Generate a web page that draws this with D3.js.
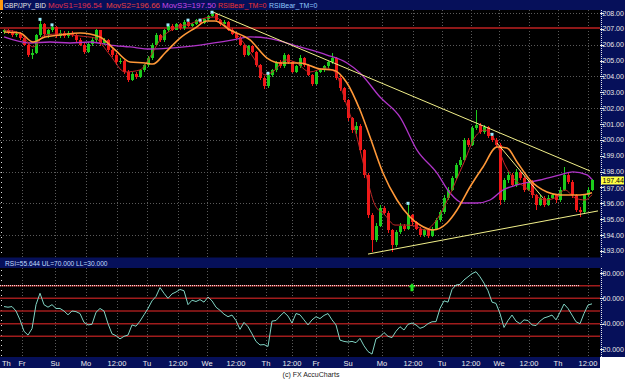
<!DOCTYPE html>
<html>
<head>
<meta charset="utf-8">
<script src="https://cdn.jsdelivr.net/npm/d3@7"></script>
<style>
  body { margin: 0; background: #fff; }
  svg { display: block; font-family: "Liberation Sans", Arial, sans-serif; }
</style>
</head>
<body>
<script>
// hourly-ish GBP/JPY bars
const firstOpen = 206.80;
const closes = [
  206.90,206.80,206.60,206.70,206.40,206.00,205.35,205.50,206.60,207.30,
  206.70,206.90,207.10,206.55,206.75,206.55,206.75,206.60,206.30,206.00,
  205.55,206.05,206.30,206.90,206.10,206.30,205.65,205.35,204.90,205.00,
  204.30,203.80,204.15,203.95,204.40,204.70,205.15,206.00,206.60,206.30,
  206.90,207.20,206.95,207.30,207.05,207.45,207.20,207.30,207.55,207.35,
  207.60,207.80,207.95,207.55,207.30,207.45,206.95,206.70,206.45,206.00,
  205.35,205.90,205.55,204.70,203.90,203.40,204.10,204.40,204.90,204.65,
  205.35,204.90,204.30,204.65,205.15,204.70,204.10,203.50,204.30,204.40,
  204.65,204.90,205.15,203.90,203.25,202.50,201.35,200.60,200.90,199.35,
  197.80,195.25,193.70,194.60,195.70,195.40,194.30,193.35,194.20,194.60,
  194.40,195.25,194.80,194.40,194.00,194.30,193.95,194.40,194.95,195.45,
  196.35,196.85,197.60,198.40,198.75,200.00,199.70,200.75,200.95,200.50,
  200.80,200.25,200.00,199.70,196.20,197.45,197.80,197.15,198.00,197.60,
  196.85,197.35,196.50,195.90,196.35,195.90,196.35,196.50,196.20,196.85,
  197.80,197.35,196.50,195.60,195.45,196.50,196.85,197.44
];
const highs = [
  207.00,207.00,206.90,206.85,206.80,206.50,206.10,205.70,206.70,207.60,
  207.40,207.00,207.25,207.15,206.90,206.85,206.85,206.85,206.70,206.40,
  206.10,206.15,206.40,207.00,206.95,206.45,206.35,205.75,205.45,205.15,
  205.05,204.40,204.25,204.25,204.50,204.80,205.30,206.10,206.75,206.70,
  207.00,207.25,207.30,207.40,207.35,207.55,207.55,207.40,207.65,207.55,
  207.70,207.90,208.05,208.00,207.60,207.55,207.50,207.05,206.80,206.55,
  206.05,206.00,206.00,205.60,204.80,204.00,204.20,204.50,205.00,205.05,
  205.50,205.40,204.95,204.75,205.35,205.20,204.80,204.15,204.40,204.55,
  204.75,205.00,205.50,205.20,204.00,203.35,202.60,201.45,201.10,201.00,
  199.45,197.90,195.40,194.75,195.90,195.85,195.50,194.40,194.30,194.75,
  194.70,196.00,195.35,194.90,194.50,194.40,194.35,194.50,195.05,195.60,
  196.50,197.00,197.75,198.55,198.90,200.15,200.10,200.90,201.90,201.05,
  200.95,200.90,200.35,200.10,199.80,197.60,197.95,197.90,198.15,198.10,
  197.70,197.50,197.45,196.60,196.50,196.45,196.50,196.65,196.60,197.00,
  198.30,197.90,197.45,196.60,195.75,196.60,197.00,197.55
];
const lows = [
  206.70,206.70,206.50,206.50,206.30,205.90,205.20,205.10,205.40,206.50,
  206.50,206.40,206.80,206.40,206.45,206.45,206.45,206.50,206.20,205.90,
  205.40,205.45,205.95,206.20,205.95,206.00,205.55,205.20,204.75,204.80,
  204.15,203.65,203.70,203.85,203.90,204.30,204.60,205.05,205.90,206.15,
  206.20,206.80,206.85,206.90,206.95,206.95,207.10,207.10,207.25,207.25,
  207.30,207.50,207.75,207.45,207.20,207.20,206.85,206.60,206.35,205.90,
  205.25,205.30,205.45,204.60,203.75,203.20,203.30,203.95,204.30,204.55,
  204.55,204.80,204.20,204.20,204.55,204.60,204.00,203.40,203.45,204.20,
  204.30,204.55,204.80,203.80,203.10,202.40,201.20,200.45,200.40,199.20,
  197.60,195.10,192.90,193.55,194.50,195.25,194.15,192.90,193.25,194.05,
  194.25,194.30,194.65,194.30,193.85,193.90,193.80,193.85,194.30,194.85,
  195.35,196.20,196.75,197.50,198.30,198.65,199.55,199.60,200.65,200.35,
  200.40,200.10,199.85,199.55,195.90,196.10,197.30,197.00,197.05,197.45,
  196.70,196.75,196.35,195.60,195.80,195.75,195.80,196.25,196.05,196.10,
  196.75,197.20,196.35,195.45,195.15,195.35,196.40,196.75
];

// moving averages, [bar, price]
const ma1 = [[0,206.93],[4,206.74],[7.25,205.86],[10.25,206.61],[14,206.68],[19,206.55],[22.75,206.42],
  [26.5,205.35],[30.25,204.28],[34,204.41],[36.5,205.23],[39,206.3],[42.75,207.05],[46.5,207.31],
  [50.25,207.68],[52.75,207.75],[55.25,207.24],[59,206.42],[62.75,205.04],[65.25,204.09],[67.75,204.41],
  [70.25,205.04],[72.75,204.91],[76.5,204.28],[80.25,204.53],[82.75,204.28],[85.25,202.51],[87.75,200.62],
  [90.25,198.1],[92.75,195.89],[95.25,195.26],[97.75,194.63],[100.25,194.63],[102.75,194.57],[105.25,194.32],
  [107.75,194.82],[110.25,195.89],[112.75,197.28],[115.25,198.73],[117.75,200.18],[120.25,200.62],
  [122.75,199.99],[125.25,198.42],[127.75,197.47],[130.25,197.03],[132.75,196.52],[135.25,196.21],
  [137.75,196.34],[140.25,196.84],[142.75,196.34],[145.25,196.21],[147,196.54]];
const ma2 = [[0,206.8],[4,206.74],[7.25,206.17],[10.25,206.49],[14,206.61],[19,206.74],[24,206.49],
  [27.75,205.67],[31.5,204.91],[35.25,204.85],[37.25,204.78],[40.25,205.48],[44,206.42],[47.75,207.05],
  [50.75,207.5],[52.75,207.5],[56.5,206.93],[61.5,206.3],[65.75,205.16],[69,204.85],[74,204.85],
  [79,204.47],[82.25,204.41],[85.75,203.59],[89,201.88],[91.5,200.18],[94.75,197.91],[98.25,196.21],
  [101.5,195.14],[104,194.63],[107.25,194.32],[110.75,194.76],[113.25,195.58],[116.5,197.03],
  [119.75,198.29],[123.25,199.55],[125.75,199.49],[128.25,198.61],[131.5,197.47],[135.75,196.71],
  [139,196.52],[144,196.52],[147,196.66]];
const ma3 = [[0,206.49],[6.5,206.11],[11.5,206.17],[16.5,206.11],[21.5,206.17],[26.5,205.98],
  [31.5,205.86],[36.5,205.73],[41.5,205.79],[49,205.98],[57.25,206.3],[61.5,206.49],[65.75,206.42],
  [74,205.86],[80.75,205.35],[85.75,204.85],[89,204.22],[94,202.7],[99,201.44],[103.25,199.36],
  [108.25,197.91],[111.5,196.65],[114.75,196.02],[118.25,196.02],[121.5,196.21],[124.75,196.84],
  [128.25,197.16],[134,197.47],[139,197.79],[142.25,197.98],[145.75,197.79],[147,197.5]];

const trendLines = [
  [[52.25,208.06],[146.5,198.04]],
  [[91,192.8],[148.5,195.52]],
  [[123.25,199.8],[134.75,196.34]]
];
const resistance = 207.05;
const bearMarks = [[9,207.6],[12,207.25],[41,207.25],[46,207.55],[49,207.55],[52,208.05],[66,204.2],[101,196.0],[122,200.35]];
const lastPrice = 197.44;

const rsi = [
  53.5,53,53.5,50,43,34,31,36,55,64,
  55,53,55,52,52,50,47,50,49.5,48,
  41,39,39.5,49,52,50,40,32,30.5,28,
  30,31,39,38,42,47,52,58,61.5,68.5,
  64,60,63.5,65,67,66,55,58.5,57.5,59,
  57,61,58,53,50.5,47.5,45.5,46.8,42.5,35.5,
  41,37.6,32,26,23.2,23.5,22,42,42.5,46,
  49,46,40.5,48,47,43,39,43,45.5,44,
  46.5,48,43,39,27,26,25.5,26,25,28.4,
  22.5,18,16,28,29.7,33,30,29,34,37.6,
  35,39.5,40.5,39,36.3,37.5,40,41.5,41.6,52,
  58,57,67,70.5,71,74.5,77,79.5,81,77,
  72,66,57,56,48,37,42.5,46.8,42,40,
  43,42.5,39,38.5,42,44.5,45.5,46.8,43,49,
  55.5,52,46.8,41.5,40,48,54.7,55.644
];
const rsiLevels = [30, 40, 50, 60, 70];
const rsiArrowBar = 102;

const tickLabels = ["Th","Fr","Su","Mo","12:00","Tu","12:00","We","12:00","Th","12:00",
  "Fr","Su","Mo","12:00","Tu","12:00","We","12:00","Th","12:00"];
const tickBars = [0,4.5,12.75,20.5,28.25,35.75,43.5,50.75,58,65.5,72,
  78,86,94.5,102.25,109.5,116.75,123.75,131.25,138.5,146];
const priceTicks = [208,207,206,205,204,203,202,201,200,199,198,197,196,195,194,193];
const priceGrid = [208,206,204,202,200,198,196,194];
const rsiTicks = [80, 60, 40, 20];

const navy = "#06105a";
const svg = d3.select("body").append("svg").attr("width", 625).attr("height", 380);

svg.append("rect").attr("width", 625).attr("height", 380).attr("fill", "#fff");
svg.append("rect").attr("width", 625).attr("height", 357).attr("fill", navy);
svg.append("rect").attr("x", 0).attr("y", 357).attr("width", 600).attr("height", 11).attr("fill", navy);
svg.append("rect").attr("x", 0).attr("y", 10).attr("width", 600).attr("height", 247.5).attr("fill", "#000");
svg.append("rect").attr("x", 0).attr("y", 268).attr("width", 600).attr("height", 89).attr("fill", "#000");
svg.append("rect").attr("x", 0).attr("y", 0).attr("width", 3).attr("height", 10).attr("fill", "#ff9a10");

const x = d3.scaleLinear().domain([-1, 149]).range([0, 600]);
const y = d3.scaleLinear().domain([193, 208]).range([250.9, 13]);
const yr = d3.scaleLinear().domain([20, 80]).range([349, 273]);

svg.append("clipPath").attr("id", "main").append("rect").attr("x", 0).attr("y", 10).attr("width", 600).attr("height", 247.5);
svg.append("clipPath").attr("id", "sub").append("rect").attr("x", 0).attr("y", 268).attr("width", 600).attr("height", 89);

// grid
const grid = svg.append("g").attr("stroke", "#5a5a5a").attr("stroke-dasharray", "1,2").attr("stroke-width", 1);
grid.selectAll(".h").data(priceGrid).join("line")
  .attr("x1", 0).attr("x2", 600).attr("y1", d => Math.round(y(d)) + 0.5).attr("y2", d => Math.round(y(d)) + 0.5);
grid.selectAll(".v").data(tickBars.slice(1)).join("line")
  .attr("x1", d => Math.round(x(d)) + 0.5).attr("x2", d => Math.round(x(d)) + 0.5).attr("y1", 10).attr("y2", 257);
grid.selectAll(".v2").data(tickBars.slice(1)).join("line")
  .attr("x1", d => Math.round(x(d)) + 0.5).attr("x2", d => Math.round(x(d)) + 0.5).attr("y1", 268).attr("y2", 357);

// left edge dots
svg.append("line").attr("x1", 1.5).attr("x2", 1.5).attr("y1", 12).attr("y2", 257)
  .attr("stroke", "#ddd").attr("stroke-dasharray", "1,4");
svg.append("line").attr("x1", 1.5).attr("x2", 1.5).attr("y1", 270).attr("y2", 357)
  .attr("stroke", "#ddd").attr("stroke-dasharray", "1,4");

const plot = svg.append("g").attr("clip-path", "url(#main)");

plot.append("line").attr("x1", 0).attr("x2", 600).attr("y1", y(resistance)).attr("y2", y(resistance))
  .attr("stroke", "#8e1818").attr("stroke-width", 2);

// candles
const bars = closes.map((c, i) => ({ i, o: i ? closes[i - 1] : firstOpen, c, h: highs[i], l: lows[i] }));
const up = "#1ccc1c", down = "#f01818";
const cg = plot.append("g").attr("shape-rendering", "crispEdges");
cg.selectAll("line").data(bars).join("line")
  .attr("x1", d => Math.round(x(d.i)) + 0.5).attr("x2", d => Math.round(x(d.i)) + 0.5)
  .attr("y1", d => y(d.h)).attr("y2", d => y(d.l))
  .attr("stroke", d => d.c >= d.o ? up : down);
cg.selectAll("rect").data(bars).join("rect")
  .attr("x", d => Math.round(x(d.i)) - 1).attr("width", 3)
  .attr("y", d => y(Math.max(d.o, d.c)))
  .attr("height", d => Math.max(1, Math.abs(y(d.o) - y(d.c))))
  .attr("fill", d => d.c >= d.o ? up : down);

const line = d3.line().x(d => x(d[0])).y(d => y(d[1])).curve(d3.curveMonotoneX);
plot.append("path").attr("d", line(ma3)).attr("fill", "none").attr("stroke", "#b034c8").attr("stroke-width", 1.3);
plot.append("path").attr("d", line(ma1)).attr("fill", "none").attr("stroke", "#c02828").attr("stroke-width", 1);
plot.append("path").attr("d", line(ma2)).attr("fill", "none").attr("stroke", "#ff9838").attr("stroke-width", 1.6);

plot.selectAll(".tl").data(trendLines).join("line")
  .attr("x1", d => x(d[0][0])).attr("y1", d => y(d[0][1]))
  .attr("x2", d => x(d[1][0])).attr("y2", d => y(d[1][1]))
  .attr("stroke", "#f2f08a").attr("stroke-width", 1);

plot.selectAll(".bm").data(bearMarks).join("rect")
  .attr("x", d => x(d[0]) - 1.5).attr("y", d => y(d[1]) - 1.5)
  .attr("width", 3).attr("height", 3).attr("fill", "#9cecff");

// right price axis
const axisCol = "#e6e6e6";
svg.append("line").attr("x1", 601.5).attr("x2", 601.5).attr("y1", 10).attr("y2", 257)
  .attr("stroke", axisCol).attr("stroke-dasharray", "1,1");
svg.selectAll(".pt").data(priceTicks).join("line")
  .attr("x1", 600).attr("x2", 604).attr("y1", d => Math.round(y(d)) + 0.5).attr("y2", d => Math.round(y(d)) + 0.5)
  .attr("stroke", axisCol);
svg.selectAll(".pl").data(priceTicks.filter(d => d !== 197)).join("text")
  .attr("x", 602.5).attr("y", d => y(d) + 2.5).attr("fill", axisCol)
  .attr("font-size", 7)
  .text(d => d.toFixed(2));
// 197.00 sits partly under the last-price tag
svg.append("text").attr("x", 602.5).attr("y", y(197) + 3.5).attr("fill", axisCol)
  .attr("font-size", 7).text("197.00");
svg.append("rect").attr("x", 601).attr("y", y(lastPrice) - 4).attr("width", 23).attr("height", 8).attr("fill", "#ffff44");
svg.append("text").attr("x", 602.5).attr("y", y(lastPrice) + 2.5).attr("fill", "#000")
  .attr("font-size", 7)
  .text(lastPrice.toFixed(2));

// title
const title = [
  ["GBP/JPY_BID", "#e8e8e8", 4, 6.5],
  ["MovS1=196.54", "#e0304c", 48, 8],
  ["MovS2=196.66", "#e84040", 106, 8],
  ["MovS3=197.50", "#c848e8", 162, 8],
  ["RSIBear_TM=0", "#f03030", 218, 7],
  ["RSIBear_TM=0", "#90c8ff", 269, 7]
];
svg.selectAll(".title").data(title).join("text")
  .attr("x", d => d[2]).attr("y", 8).attr("fill", d => d[1])
  .attr("font-size", d => d[3])
  .text(d => d[0]);

// RSI panel
svg.append("text").attr("x", 5).attr("y", 266).attr("fill", "#c0dcff")
  .attr("font-size", 6.6)
  .text("RSI=55.644 UL=70.000 LL=30.000");

const sub = svg.append("g").attr("clip-path", "url(#sub)");
sub.selectAll(".lv").data(rsiLevels).join("line")
  .attr("x1", 0).attr("x2", 600).attr("y1", d => yr(d)).attr("y2", d => yr(d))
  .attr("stroke", "#a01c1c").attr("stroke-width", 1.5);
sub.append("line").attr("x1", 0).attr("x2", 580).attr("y1", yr(70)).attr("y2", yr(70))
  .attr("stroke", "#fff").attr("stroke-dasharray", "1,1");

sub.append("path")
  .attr("d", d3.line().x((d, i) => x(i)).y(d => yr(d))(rsi))
  .attr("fill", "none").attr("stroke", "#80d4c4").attr("stroke-width", 1);

sub.append("path")
  .attr("transform", `translate(${x(rsiArrowBar)},${yr(72)})`)
  .attr("d", "M0,0L3.5,4L1.5,4L1.5,8L-1.5,8L-1.5,4L-3.5,4Z")
  .attr("fill", "#22e022");

svg.append("line").attr("x1", 601.5).attr("x2", 601.5).attr("y1", 268).attr("y2", 357)
  .attr("stroke", axisCol).attr("stroke-dasharray", "1,1");
svg.selectAll(".rt").data(rsiTicks).join("line")
  .attr("x1", 600).attr("x2", 604).attr("y1", d => Math.round(yr(d)) + 0.5).attr("y2", d => Math.round(yr(d)) + 0.5)
  .attr("stroke", axisCol);
svg.selectAll(".rl").data(rsiTicks).join("text")
  .attr("x", 602.5).attr("y", d => yr(d) + 2.5).attr("fill", axisCol)
  .attr("font-size", 7)
  .text(d => d.toFixed(3));

// time axis
svg.selectAll(".xl").data(tickLabels).join("text")
  .attr("x", (d, i) => i ? x(tickBars[i]) : 2)
  .attr("y", 366).attr("fill", "#ececec").attr("font-size", 7.5)
  .attr("text-anchor", (d, i) => i ? "middle" : "start")
  .text(d => d);

svg.append("text").attr("x", 311).attr("y", 377).attr("text-anchor", "middle")
  .attr("fill", "#222").attr("font-size", 7)
  .text("(c) FX AccuCharts");
</script>
</body>
</html>
